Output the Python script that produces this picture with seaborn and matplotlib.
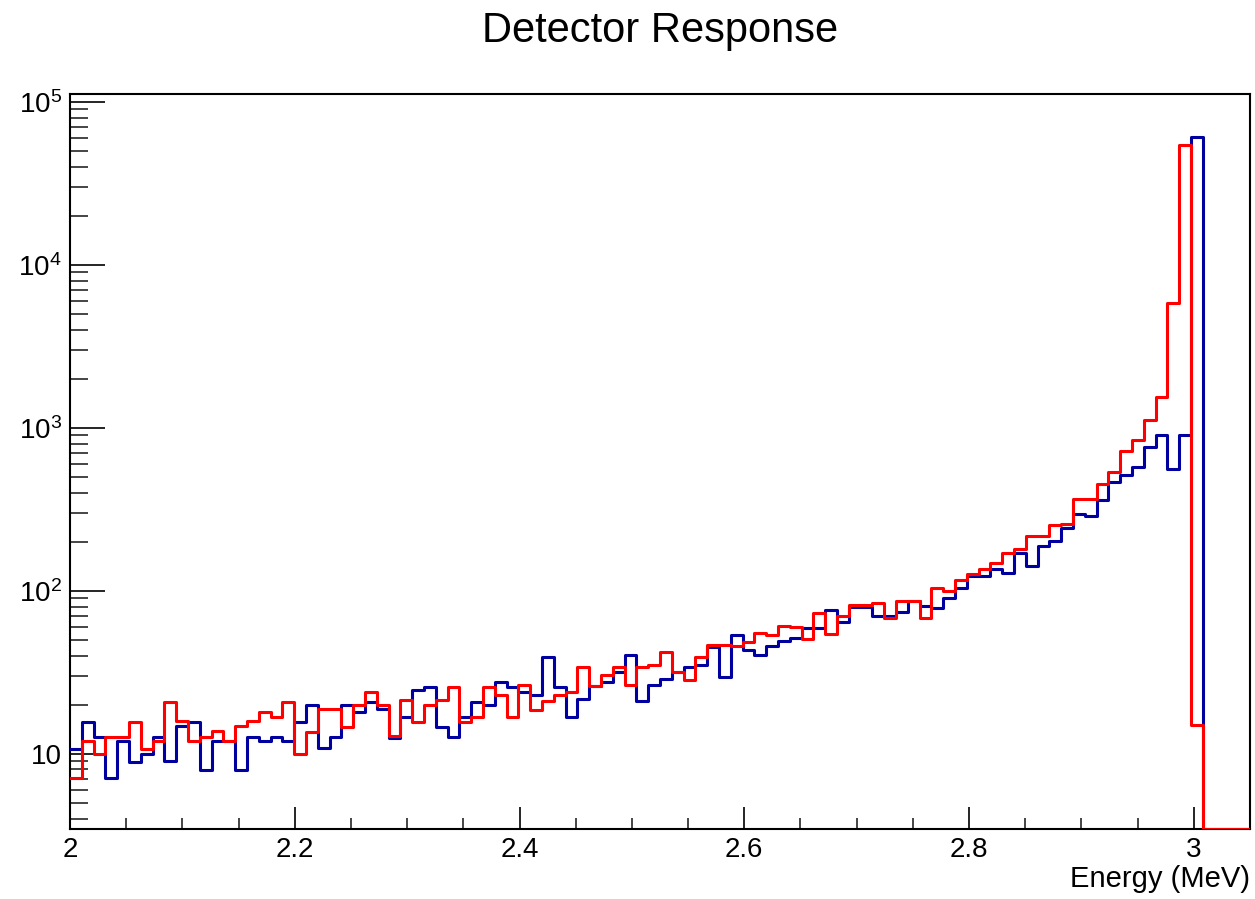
import numpy as np
import pandas as pd
import matplotlib
matplotlib.use('Agg')
import matplotlib.pyplot as plt
from matplotlib.ticker import MultipleLocator, LogLocator, FuncFormatter, NullFormatter
import seaborn as sns

# histogram binning: 100 bins between 2.0 and 3.05 MeV
e_lo, e_hi, n_bins = 2.0, 3.05, 100

blue_counts = [
    10.7, 15.6, 12.7, 7.1, 11.9, 8.9, 10.0, 12.7, 9.0, 14.8,
    15.6, 7.9, 11.9, 11.9, 7.9, 12.7, 11.9, 12.7, 11.9, 15.6,
    20.0, 10.8, 12.7, 20.0, 18.0, 20.9, 18.9, 12.4, 16.8, 24.7,
    25.7, 14.6, 12.7, 16.8, 20.9, 20.0, 27.5, 25.7, 24.0, 23.0,
    39.2, 25.7, 16.8, 21.7, 26.2, 27.5, 31.7, 40.1, 21.2, 26.5,
    28.8, 31.7, 34.0, 35.2, 45.1, 29.5, 53.5, 43.2, 40.4, 45.7,
    48.9, 51.3, 59.0, 59.0, 75.7, 64.3, 79.4, 79.0, 70.5, 70.5,
    74.0, 86.0, 81.0, 78.0, 90.2, 104, 124, 123, 136, 128,
    171, 142, 188, 202, 243, 297, 287, 363, 468, 515,
    574, 762, 906, 560, 906, 60700, 0, 0, 0, 0,
]

red_counts = [
    7.1, 11.9, 10.0, 12.7, 12.7, 15.6, 10.7, 11.9, 20.7, 15.8,
    11.9, 12.7, 13.7, 11.9, 14.8, 15.8, 18.0, 16.8, 20.7, 10.0,
    13.6, 18.7, 18.7, 14.6, 20.0, 23.9, 20.0, 12.8, 21.5, 15.6,
    20.0, 21.5, 25.7, 15.6, 16.8, 25.7, 23.0, 16.8, 26.5, 18.5,
    21.2, 22.8, 23.9, 34.0, 26.2, 30.5, 34.0, 26.5, 34.0, 35.2,
    42.0, 31.7, 28.5, 39.2, 46.3, 46.3, 46.0, 48.7, 55.2, 53.2,
    61.2, 59.8, 50.8, 73.3, 54.4, 70.5, 81.3, 82.0, 84.7, 68.0,
    86.0, 86.0, 68.0, 104, 100, 116, 127, 136, 149, 171,
    181, 218, 218, 252, 258, 367, 367, 453, 539, 716,
    848, 1125, 1543, 5850, 54700, 14.9, 0, 0, 0, 0,
]

y_lo, y_hi = 3.45, 1.12e5

edges = np.linspace(e_lo, e_hi, n_bins + 1)
centers = 0.5 * (edges[:-1] + edges[1:])

# empty bins are drawn on the bottom of the frame, like ROOT does on a log axis
df = pd.DataFrame({
    'energy': np.concatenate([centers, centers]),
    'counts': np.maximum(np.concatenate([blue_counts, red_counts]), y_lo),
    'series': ['blue'] * n_bins + ['red'] * n_bins,
})

sns.set_style('ticks')
plt.rcParams['font.family'] = ['Liberation Sans', 'DejaVu Sans']
plt.rcParams['mathtext.fontset'] = 'custom'
plt.rcParams['mathtext.rm'] = 'Liberation Sans'
plt.rcParams['text.color'] = 'black'
plt.rcParams['axes.labelcolor'] = 'black'

fig = plt.figure(figsize=(12.55, 8.99), dpi=100)
ax = fig.add_axes([70 / 1255, 70 / 899, 1180 / 1255, 735 / 899])

sns.histplot(data=df[df['series'] == 'blue'], x='energy', weights='counts', bins=list(edges),
             element='step', fill=False, color='#0000a0', linewidth=2.2, zorder=3, ax=ax)
sns.histplot(data=df[df['series'] == 'red'], x='energy', weights='counts', bins=list(edges),
             element='step', fill=False, color='#ff0000', linewidth=2.2, zorder=3, ax=ax)

ax.set_yscale('log')
ax.set_xlim(e_lo, e_hi)
ax.set_ylim(y_lo, y_hi)

ax.xaxis.set_major_locator(MultipleLocator(0.2))
ax.xaxis.set_minor_locator(MultipleLocator(0.05))
ax.xaxis.set_major_formatter(FuncFormatter(lambda v, p: '%g' % round(v, 2)))

ax.yaxis.set_major_locator(LogLocator(base=10, numticks=10))
ax.yaxis.set_minor_locator(LogLocator(base=10, subs=np.arange(2, 10), numticks=20))
ax.yaxis.set_minor_formatter(NullFormatter())


def log_label(v, pos):
    e = int(round(np.log10(v)))
    return '10' if e == 1 else r'$\mathregular{10^{%d}}$' % e


ax.yaxis.set_major_formatter(FuncFormatter(log_label))

ax.tick_params(axis='x', which='major', direction='in', length=16, width=1.2,
               labelsize=20, pad=6, colors='black')
ax.tick_params(axis='x', which='minor', direction='in', length=8, width=1.2)
ax.tick_params(axis='y', which='major', direction='in', length=25.5, width=1.2,
               labelsize=20, pad=6, colors='black')
ax.tick_params(axis='y', which='minor', direction='in', length=12.7, width=1.2)

for s in ax.spines.values():
    s.set_color('black')
    s.set_linewidth(1.5)

ax.set_ylabel('')
ax.set_xlabel('Energy (MeV)', loc='right', fontsize=21, labelpad=1, color='black')

fig.text(660 / 1255, 1 - 31 / 899, 'Detector Response', ha='center', va='center',
         fontsize=30, color='black')

fig.savefig('out.png', dpi=100)
